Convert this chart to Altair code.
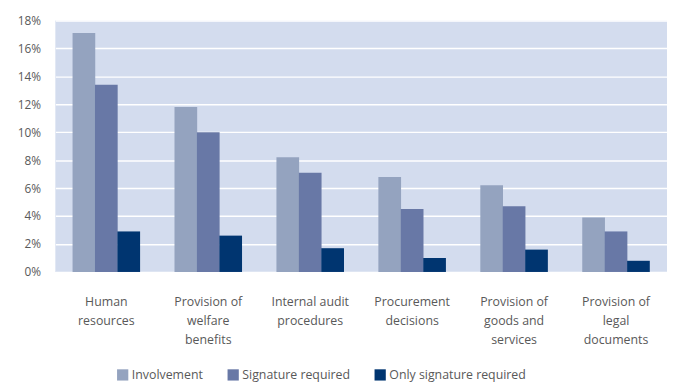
import altair as alt
import pandas as pd

categories = ["Human\nresources", "Provision of\nwelfare\nbenefits", "Internal audit\nprocedures",
              "Procurement\ndecisions", "Provision of\ngoods and\nservices", "Provision of\nlegal\ndocuments"]
series = ["Involvement", "Signature required", "Only signature required"]
involvement = [0.171, 0.118, 0.082, 0.068, 0.062, 0.039]
signature = [0.134, 0.100, 0.071, 0.045, 0.047, 0.029]
only_signature = [0.029, 0.026, 0.017, 0.010, 0.016, 0.008]
colors = ["#94A3BF", "#6878A6", "#003570"]

rows = []
for i, c in enumerate(categories):
    for s, vals in zip(series, [involvement, signature, only_signature]):
        rows.append({"category": c, "series": s, "value": vals[i]})
df = pd.DataFrame(rows)

FONT = "Open Sans"
GRAY = "#595959"

chart = alt.Chart(df).mark_bar(size=23).encode(
    x=alt.X("category:N", sort=categories, title=None,
            scale=alt.Scale(paddingInner=0.34, paddingOuter=0.17),
            axis=alt.Axis(labelAngle=0, labelExpr="split(datum.label, '\\n')",
                          labelPadding=30, labelFontSize=12.5, labelColor=GRAY,
                          labelFont=FONT, labelLineHeight=19.5, ticks=False, domain=False,
                          labelBaseline="middle")),
    xOffset=alt.XOffset("series:N", sort=series),
    y=alt.Y("value:Q", title=None,
            scale=alt.Scale(domain=[0, 0.18]),
            axis=alt.Axis(format=".0%", values=[i / 100 for i in range(0, 19, 2)],
                          labelPadding=15, labelFontSize=12, labelColor=GRAY, labelFont=FONT,
                          ticks=False, domain=False, gridColor="white", gridWidth=1.5)),
    color=alt.Color("series:N", sort=series,
                    scale=alt.Scale(domain=series, range=colors),
                    legend=alt.Legend(title=None, orient="none", direction="horizontal",
                                      legendX=62, legendY=353, symbolType="square",
                                      symbolSize=130, symbolStrokeWidth=0, labelFontSize=12.5,
                                      labelColor=GRAY, labelFont=FONT, columnPadding=24,
                                      labelOffset=3, symbolOpacity=1)),
).properties(
    width=620, height=255,
    padding={"left": 9, "top": 4, "right": 0, "bottom": 0},
).configure_view(
    fill="#D3DCEE", stroke=None
).configure_axis(
    gridOpacity=1
)

chart.save("out.html", embed_options={"renderer": "svg", "actions": False})
